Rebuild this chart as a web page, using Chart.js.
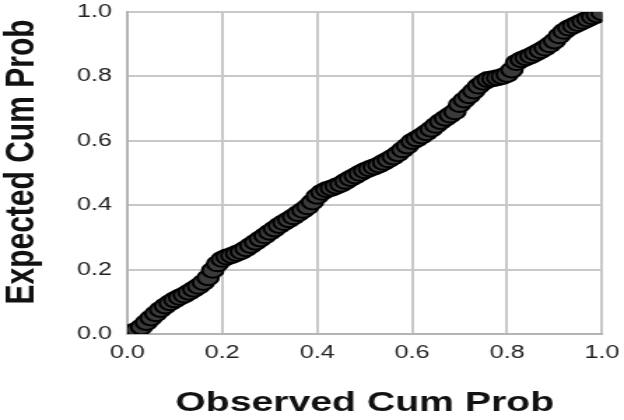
<!DOCTYPE html>
<html>
<head>
<meta charset="utf-8">
<script src="https://cdn.jsdelivr.net/npm/chart.js@4"></script>
<style>
  body { margin: 0; background: #fff; }
  /* el gráfico original está estirado en horizontal */
  #wrap { width: 446px; height: 420px; transform: scaleX(1.3991); transform-origin: 0 0; }
</style>
</head>
<body>
<div id="wrap"><canvas id="grafico"></canvas></div>
<script>
let observado = [
  0.00, 0.01, 0.02, 0.03, 0.04, 0.05, 0.06, 0.07, 0.08, 0.09,
  0.10, 0.11, 0.12, 0.13, 0.14, 0.15, 0.16, 0.17, 0.18, 0.19,
  0.20, 0.21, 0.22, 0.23, 0.24, 0.25, 0.26, 0.27, 0.28, 0.29,
  0.30, 0.31, 0.32, 0.33, 0.34, 0.35, 0.36, 0.37, 0.38, 0.39,
  0.40, 0.41, 0.42, 0.43, 0.44, 0.45, 0.46, 0.47, 0.48, 0.49,
  0.50, 0.51, 0.52, 0.53, 0.54, 0.55, 0.56, 0.57, 0.58, 0.59,
  0.60, 0.61, 0.62, 0.63, 0.64, 0.65, 0.66, 0.67, 0.68, 0.69,
  0.70, 0.71, 0.72, 0.73, 0.74, 0.75, 0.76, 0.77, 0.78, 0.79,
  0.80, 0.81, 0.82, 0.83, 0.84, 0.85, 0.86, 0.87, 0.88, 0.89,
  0.90, 0.91, 0.92, 0.93, 0.94, 0.95, 0.96, 0.97, 0.98, 0.99,
  1.00
];
let esperado = [
  0.003, 0.006, 0.012, 0.022, 0.036, 0.050, 0.063, 0.076, 0.087, 0.097,
  0.106, 0.114, 0.121, 0.130, 0.139, 0.148, 0.160, 0.175, 0.198, 0.218,
  0.232, 0.239, 0.244, 0.250, 0.256, 0.265, 0.275, 0.285, 0.295, 0.305,
  0.316, 0.326, 0.337, 0.346, 0.355, 0.364, 0.374, 0.384, 0.395, 0.410,
  0.428, 0.440, 0.448, 0.453, 0.459, 0.465, 0.474, 0.483, 0.491, 0.499,
  0.507, 0.513, 0.519, 0.525, 0.533, 0.541, 0.550, 0.560, 0.572, 0.584,
  0.598, 0.606, 0.615, 0.625, 0.636, 0.648, 0.660, 0.670, 0.680, 0.690,
  0.713, 0.727, 0.740, 0.755, 0.770, 0.782, 0.790, 0.793, 0.796, 0.800,
  0.806, 0.820, 0.843, 0.852, 0.858, 0.864, 0.872, 0.880, 0.888, 0.898,
  0.910, 0.926, 0.940, 0.950, 0.957, 0.964, 0.971, 0.978, 0.985, 0.991,
  0.998
];
let marcas = [0, 0.2, 0.4, 0.6, 0.8, 1.0];

const fuente = "'Liberation Sans', Arial, sans-serif";

// titulo del eje Y dibujado a mano para ubicarlo igual que el original
const tituloY = {
  id: 'tituloY',
  afterDraw(chart) {
    const ctx = chart.ctx;
    ctx.save();
    ctx.translate(16, 162);
    ctx.rotate(-Math.PI / 2);
    ctx.textAlign = 'center';
    ctx.textBaseline = 'middle';
    ctx.fillStyle = '#111';
    ctx.font = "bold 30px " + fuente;
    ctx.fillText('Expected Cum Prob', 0, 0);
    ctx.restore();
  }
};

const ctx = document.getElementById('grafico').getContext('2d');
let chart = new Chart(ctx, {
  type: 'scatter',
  data: {
    datasets: [{
      data: observado.map((x, i) => ({ x: x, y: esperado[i] })),
      backgroundColor: '#3a3a3a',
      borderColor: '#000000',
      borderWidth: 2,
      pointRadius: 7.5
    }]
  },
  options: {
    responsive: true,
    maintainAspectRatio: false,
    animation: false,
    layout: { padding: { top: 12, right: 15.7, left: 0, bottom: 0 } },
    plugins: { legend: { display: false }, tooltip: { enabled: false } },
    scales: {
      x: {
        min: 0, max: 1,
        afterBuildTicks: s => { s.ticks = marcas.map(v => ({ value: v })); },
        afterFit: s => { s.height = 86; s.paddingLeft = 0; s.paddingRight = 0; },
        ticks: {
          padding: 8,
          color: '#222',
          font: { family: fuente, size: 18 },
          callback: v => Number(v).toFixed(1)
        },
        grid: { color: '#c8c8c8', lineWidth: 2, drawTicks: false },
        border: { color: '#b4b4b4', width: 2 },
        title: {
          display: true,
          text: 'Observed Cum Prob',
          color: '#111',
          padding: 0,
          font: { family: fuente, size: 28, weight: 'bold' }
        }
      },
      y: {
        min: 0, max: 1,
        afterBuildTicks: s => { s.ticks = marcas.map(v => ({ value: v })); },
        afterFit: s => { s.width = 91; s.paddingTop = 0; s.paddingBottom = 0; },
        ticks: {
          padding: 11,
          color: '#222',
          font: { family: fuente, size: 18 },
          callback: v => Number(v).toFixed(1)
        },
        grid: { color: '#c8c8c8', lineWidth: 2, drawTicks: false },
        border: { color: '#b4b4b4', width: 2 }
      }
    }
  },
  plugins: [tituloY]
});
</script>
</body>
</html>
